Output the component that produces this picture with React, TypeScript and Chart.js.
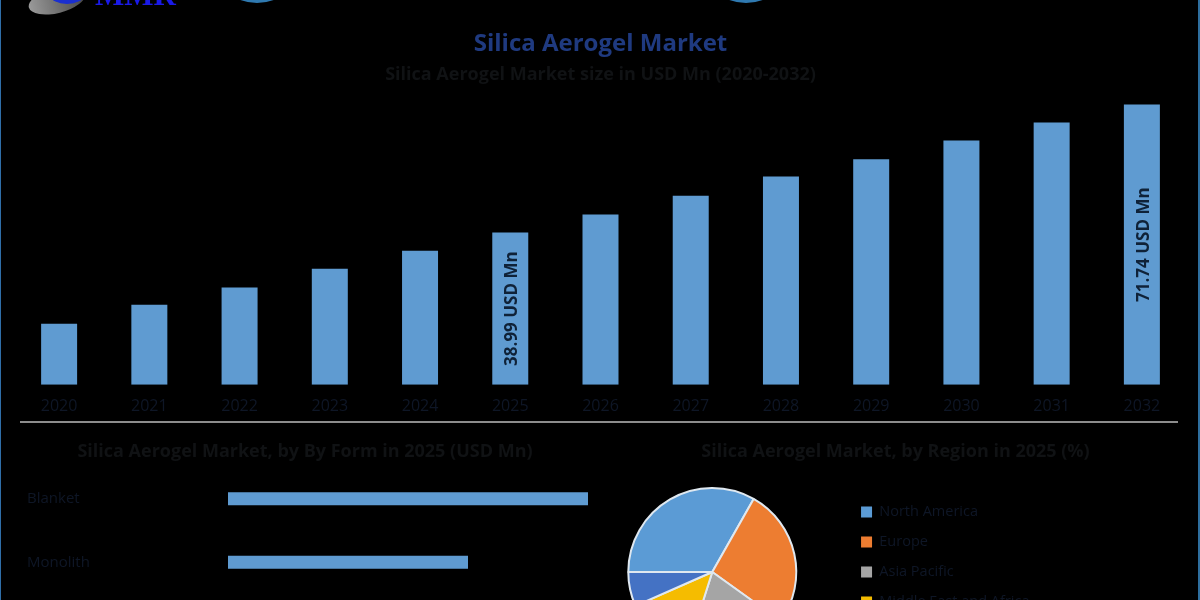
import React, { useEffect, useRef } from "react";
import { Chart, registerables } from "chart.js";

Chart.register(...registerables);

const years = ["2020","2021","2022","2023","2024","2025","2026","2027","2028","2029","2030","2031","2032"];
const marketSize = [15.6,20.5,24.9,29.7,34.3,38.99,43.6,48.4,53.3,57.7,62.5,67.1,71.74];
const labelledYears = ["2025","2032"];
const forms = ["Blanket","Monolith"];
const formValues = [21,14];
const regions = ["North America","Europe","Asia Pacific","Middle East and Africa","South America"];
const regionShares = [33.2,26.7,20,13.5,6.6];
const regionColors = ["#5B9BD5","#ED7D31","#A5A5A5","#F5BC00","#4472C4"];

const FONT = "'Open Sans', sans-serif";
const BLUE = "#5F9BD1";
const DARK = "#101214";
const NAVY = "#0E1626";

const barLabels = {
  id: "barLabels",
  afterDatasetsDraw(chart: any) {
    const { ctx } = chart;
    const meta = chart.getDatasetMeta(0);
    years.forEach((y, i) => {
      if (!labelledYears.includes(y)) return;
      const el = meta.data[i];
      ctx.save();
      ctx.translate(el.x + 2, (el.y + el.base) / 2);
      ctx.rotate(-Math.PI / 2);
      ctx.font = `bold 17px ${FONT}`;
      ctx.fillStyle = "#0F2238";
      ctx.textAlign = "center";
      ctx.textBaseline = "middle";
      ctx.fillText(`${marketSize[i]} USD Mn`, 0, 0);
      ctx.restore();
    });
  },
};

// Chart.js centres a title in the padded box; this moves it to a given canvas x.
const centreTitleAt = (cx: number) => ({
  id: "centreTitleAt",
  afterLayout(chart: any) {
    const t = chart.titleBlock;
    const half = (t.right - t.left) / 2;
    t.left = cx - half;
    t.right = cx + half;
  },
});

export default function App() {
  const topRef = useRef<HTMLCanvasElement>(null);
  const formRef = useRef<HTMLCanvasElement>(null);
  const pieRef = useRef<HTMLCanvasElement>(null);

  useEffect(() => {
    const top = new Chart(topRef.current!, {
      type: "bar",
      data: { labels: years, datasets: [{ data: marketSize, backgroundColor: BLUE, barPercentage: 36 / 90.25, categoryPercentage: 1 }] },
      options: {
        responsive: false,
        animation: false,
        layout: { autoPadding: false, padding: { left: 14, right: 13 } },
        plugins: {
          legend: { display: false },
          tooltip: { enabled: false },
          title: { display: true, text: "Silica Aerogel Market", color: "#1F3A80", font: { family: FONT, size: 24, weight: "bold" }, padding: { top: 29.6, bottom: 5.8 } },
          subtitle: { display: true, text: "Silica Aerogel Market size in USD Mn (2020-2032)", color: DARK, font: { family: FONT, size: 18, weight: "bold" }, padding: { top: 0, bottom: 4 } },
        },
        scales: {
          x: { grid: { display: false, drawTicks: false }, border: { display: false }, ticks: { color: NAVY, font: { family: FONT, size: 16 }, padding: 12, maxRotation: 0, autoSkip: false } },
          y: { display: false, min: 0, max: 75.5 },
        },
      },
      plugins: [barLabels],
    } as any);

    const form = new Chart(formRef.current!, {
      type: "bar",
      data: { labels: forms, datasets: [{ data: formValues, backgroundColor: BLUE, barPercentage: 13 / 64, categoryPercentage: 1 }] },
      options: {
        indexAxis: "y",
        responsive: false,
        animation: false,
        layout: { autoPadding: false, padding: { left: 7, right: 2 } },
        plugins: {
          legend: { display: false },
          tooltip: { enabled: false },
          title: { display: true, text: "Silica Aerogel Market, by By Form in 2025 (USD Mn)", color: DARK, font: { family: FONT, size: 18, weight: "bold" }, padding: { top: 11, bottom: 4.4 } },
        },
        scales: {
          x: { display: false, min: 0, max: 21 },
          y: {
            grid: { display: false, drawTicks: false },
            border: { display: false },
            afterFit: (s: any) => { s.width = 201; },
            ticks: { color: NAVY, font: { family: FONT, size: 15 }, crossAlign: "far", padding: 0 },
          },
        },
      },
      plugins: [centreTitleAt(285)],
    } as any);

    const pie = new Chart(pieRef.current!, {
      type: "pie",
      data: { labels: regions, datasets: [{ data: regionShares, backgroundColor: regionColors, borderColor: "#DFE8F0", borderWidth: 2, radius: 84, rotation: -90 }] },
      options: {
        responsive: false,
        animation: false,
        layout: { padding: { right: 172.5 } },
        plugins: {
          tooltip: { enabled: false },
          title: { display: true, text: "Silica Aerogel Market, by Region in 2025 (%)", color: DARK, font: { family: FONT, size: 18, weight: "bold" }, padding: { top: 11, bottom: 7.4 } },
          legend: {
            position: "right",
            align: "center",
            fullSize: false,
            labels: {
              boxWidth: 11,
              boxHeight: 11,
              padding: 15.5,
              color: NAVY,
              font: { family: FONT, size: 14.5 },
              generateLabels: (chart: any) =>
                (Chart as any).overrides.pie.plugins.legend.labels.generateLabels(chart).map((item: any) => ({ ...item, lineWidth: 0 })),
            },
          },
        },
      },
      plugins: [centreTitleAt(316.5)],
    } as any);

    return () => { top.destroy(); form.destroy(); pie.destroy(); };
  }, []);

  const abs = { position: "absolute" as const };
  return (
    <div style={{ position: "fixed", left: 0, top: 0, width: 1200, height: 600, overflow: "hidden", background: "#000" }}>
      <canvas ref={topRef} width={1200} height={428} style={{ ...abs, left: 0, top: 0 }} />
      <canvas ref={formRef} width={570} height={173} style={{ ...abs, left: 20, top: 430 }} />
      <canvas ref={pieRef} width={633} height={244} style={{ ...abs, left: 579, top: 430 }} />
      <div style={{ ...abs, left: 20, top: 421, width: 1158, height: 2, background: "#8C8C8C" }} />
      <div style={{ ...abs, left: 0, top: 0, width: 1, height: 600, background: "#2F6EA8" }} />
      <div style={{ ...abs, left: 1198, top: 0, width: 2, height: 600, background: "#2E6E9E" }} />
      <div style={{ ...abs, left: 209, top: -93, width: 96, height: 96, borderRadius: "50%", background: "#2F79B0" }} />
      <div style={{ ...abs, left: 698, top: -93, width: 96, height: 96, borderRadius: "50%", background: "#2F79B0" }} />
      <div style={{ ...abs, left: 28, top: -12, width: 58, height: 25, borderRadius: "50%", background: "linear-gradient(90deg,#9a9a9a,#444)", transform: "rotate(-14deg)" }} />
      <div style={{ ...abs, left: 50, top: -14, width: 34, height: 18, borderRadius: "50%", background: "#1A2FD0" }} />
      <div style={{ ...abs, left: 95, top: -25, fontFamily: "'Liberation Serif', serif", fontWeight: 700, fontSize: 31, lineHeight: "40px", color: "#1A1AE8" }}>MMR</div>
    </div>
  );
}
